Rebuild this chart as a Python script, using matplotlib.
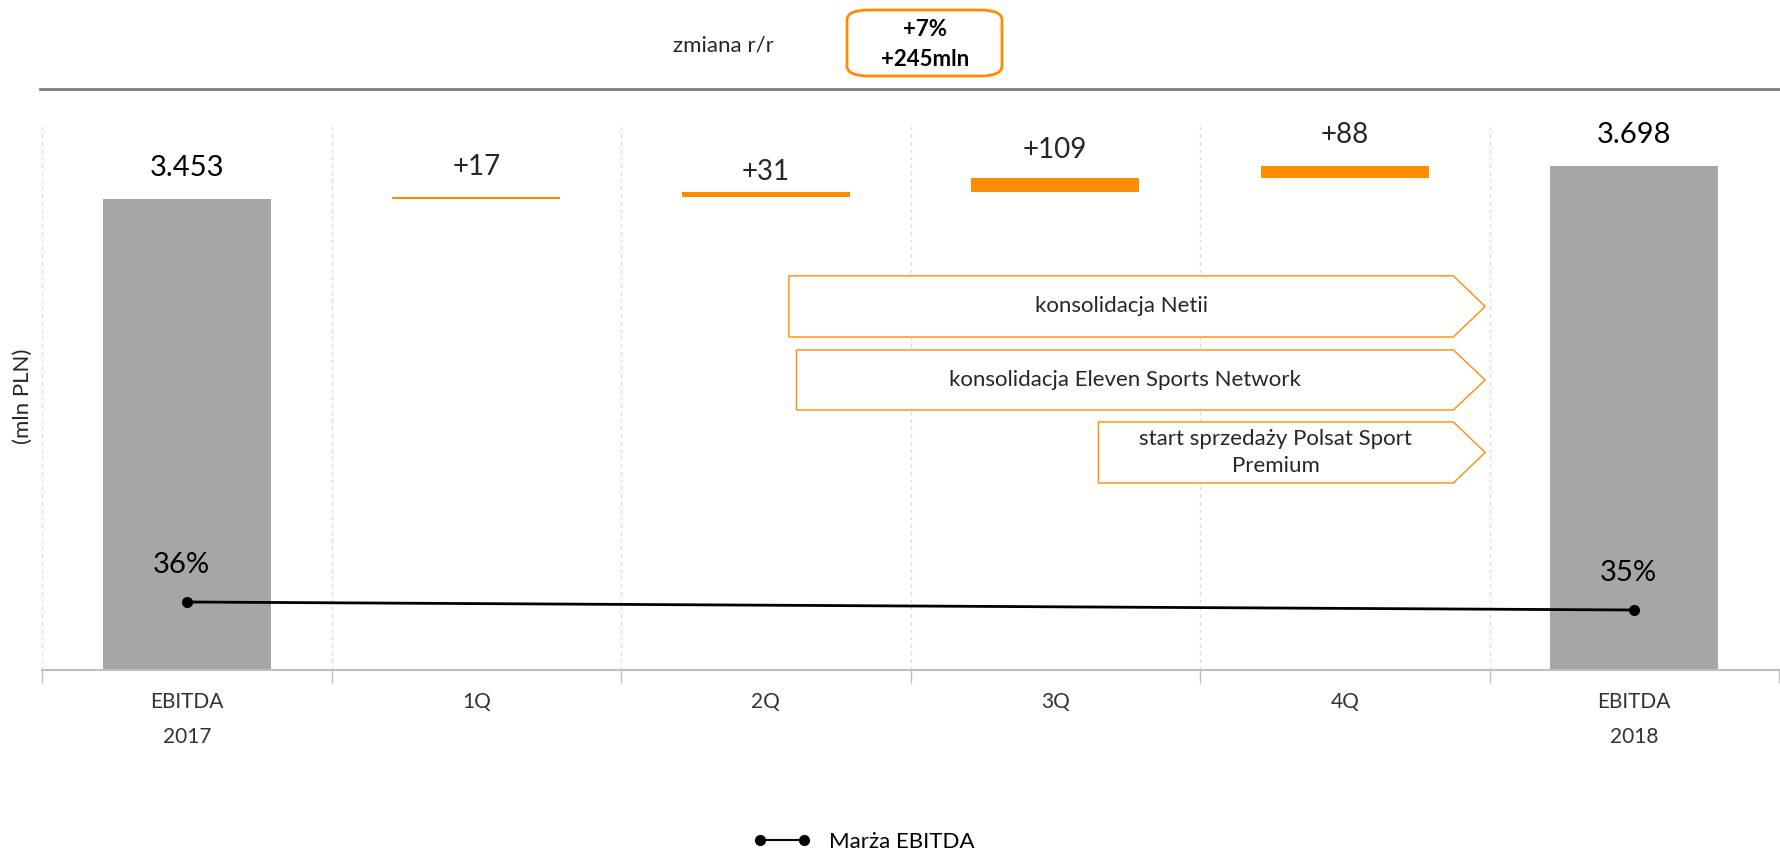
import numpy as np
import matplotlib
matplotlib.use("Agg")
import matplotlib.pyplot as plt
from matplotlib.patches import Polygon, FancyBboxPatch
from matplotlib.lines import Line2D

plt.rcParams['font.family'] = ['Lato', 'DejaVu Sans']

# EBITDA bridge 2017 -> 2018 (mln PLN)
categories = ['EBITDA\n2017', '1Q', '2Q', '3Q', '4Q', 'EBITDA\n2018']
ebitda_start = 3453
quarter_change = [17, 31, 109, 88]
ebitda_end = 3698
total_labels = ['3.453', '3.698']
change_labels = ['+17', '+31', '+109', '+88']

# EBITDA margin (%)
margin = [36, 35]
margin_labels = ['36%', '35%']

yoy_pct = '+7%'
yoy_abs = '+245mln'

notes = ['konsolidacja Netii',
         'konsolidacja Eleven Sports Network',
         'start sprzedaży Polsat Sport\nPremium']

GREY = '#A6A6A6'
ORANGE = '#FF8C00'
TXT = '#262626'

fig = plt.figure(figsize=(17.81, 8.55), dpi=100)
ax = fig.add_axes([0.0236, 0.2164, 0.9753, 0.6398])

x = np.arange(len(categories))
w = 0.58

# totals
ax.bar([x[0], x[-1]], [ebitda_start, ebitda_end], width=w, color=GREY, zorder=2)
for xi, val, lab in zip([x[0], x[-1]], [ebitda_start, ebitda_end], total_labels):
    ax.text(xi, val + 225, lab, ha='center', va='center', fontsize=21,
            color='black')

# quarterly increments
bottoms = ebitda_start + np.concatenate([[0], np.cumsum(quarter_change)[:-1]])
ax.bar(x[1:5], quarter_change, bottom=bottoms, width=w, color=ORANGE, zorder=2)
label_gap = [215, 150, 200, 220]
for xi, b, d, lab, g in zip(x[1:5], bottoms, quarter_change, change_labels, label_gap):
    ax.text(xi, b + d + g, lab, ha='center', va='center', fontsize=20,
            color=TXT)

ax.set_xlim(-0.5, 5.5)
ax.set_ylim(0, 4010)
ax.set_yticks([])
ax.set_xticks(x)
ax.set_xticklabels(categories, fontsize=15, color='#333333', linespacing=1.9)
ax.tick_params(axis='x', which='major', length=0, pad=16)
ax.set_xticks(np.arange(-0.5, 6.0, 1.0), minor=True)
ax.tick_params(axis='x', which='minor', length=9, color='#BFBFBF', width=1)
for s in ['top', 'left', 'right']:
    ax.spines[s].set_visible(False)
ax.spines['bottom'].set_color('#BFBFBF')
ax.spines['bottom'].set_linewidth(1.5)
for b in np.arange(-0.5, 6.0, 1.0):
    ax.axvline(b, color='#D9D9D9', lw=0.9, ls=(0, (3, 3)), zorder=0)

ax.set_ylabel('(mln PLN)', fontsize=16, color=TXT)
ax.yaxis.set_label_coords(-0.005, 0.5)

# chevron notes
shapes = [(2.08, 2441, 2889), (2.106, 1906, 2346), (3.149, 1371, 1818)]
for (x0, y0, y1), note in zip(shapes, notes):
    pts = [(x0, y0), (4.375, y0), (4.485, (y0 + y1) / 2), (4.375, y1), (x0, y1)]
    ax.add_patch(Polygon(pts, closed=True, facecolor='white', edgecolor=ORANGE,
                         lw=1.0, zorder=3))
    ax.text((x0 + 4.375) / 2, (y0 + y1) / 2, note, ha='center', va='center',
            fontsize=16, color=TXT, zorder=4, linespacing=1.4)

# margin line on secondary axis
ax2 = ax.twinx()
ax2.set_ylim(27.5, 95.9)
ax2.axis('off')
ax2.plot([x[0], x[-1]], margin, color='black', lw=2, marker='o', ms=7, zorder=5)
for xi, m, lab in zip([x[0], x[-1]], margin, margin_labels):
    ax2.text(xi - 0.02, m + 4.6, lab, ha='center', va='center', fontsize=21,
             color='black')

# header
fig.add_artist(Line2D([40 / 1781, 1], [1 - 89 / 855] * 2, color='#7F7F7F', lw=2))
fig.text(723 / 1781, 1 - 45 / 855, 'zmiana r/r', ha='center', va='center',
         fontsize=16, color=TXT)
fig.add_artist(FancyBboxPatch((847 / 1781, 1 - 76 / 855), 155 / 1781, 66 / 855,
                              boxstyle='round,pad=0,rounding_size=0.012',
                              transform=fig.transFigure, facecolor='white',
                              edgecolor=ORANGE, lw=2))
fig.text(925 / 1781, 1 - 29 / 855, yoy_pct, ha='center', va='center',
         fontsize=16, fontweight='bold', color='black')
fig.text(925 / 1781, 1 - 60 / 855, yoy_abs, ha='center', va='center',
         fontsize=16, fontweight='bold', color='black')

fig.legend(handles=[Line2D([], [], color='black', lw=1.5, marker='o', ms=7)],
           labels=['Marża EBITDA'], loc='center', numpoints=2,
           bbox_to_anchor=(0.485, 1 - 842 / 855), frameon=False, fontsize=16,
           handlelength=2.6, labelcolor='black')

fig.savefig('out.png', dpi=100)
